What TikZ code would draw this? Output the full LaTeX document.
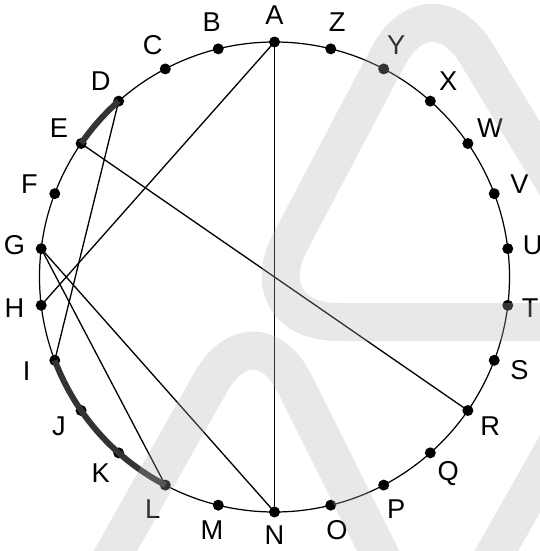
\documentclass[tikz,border=0pt]{standalone}
\usepackage{fontspec}
\setmainfont{Liberation Sans}
\usepackage{tikz}
\tikzset{
  letter dot/.style={
    circle, fill=black, draw=none, inner sep=0pt, minimum size=2.2mm
  },
  letter label/.style={
    inner sep=0pt, font=\fontsize{15.5}{18}\selectfont
  },
  chord/.style={
    draw=black, line width=0.75pt
  },
  marked arc/.style={
    draw=black!80, line width=3.4pt
  },
  watermark/.style={
    draw=black!31, draw opacity=0.29, line width=0.76cm, rounded corners=1.8cm
  }
}

\begin{document}
\begin{tikzpicture}[line width=0.7pt]

\useasboundingbox (-5.49,-5.48) rectangle (5.31,5.54);

% ---------------------------
% circle and its 26 points
% ---------------------------
\draw (0,0) circle (4.7);

\node[letter dot] (A) at (90:4.7) {};
\node[letter dot] (B) at (103.85:4.7) {};
\node[letter dot] (C) at (117.69:4.7) {};
\node[letter dot] (D) at (131.54:4.7) {};
\node[letter dot] (E) at (145.38:4.7) {};
\node[letter dot] (F) at (159.23:4.7) {};
\node[letter dot] (G) at (173.08:4.7) {};
\node[letter dot] (H) at (186.92:4.7) {};
\node[letter dot] (I) at (200.77:4.7) {};
\node[letter dot] (J) at (214.62:4.7) {};
\node[letter dot] (K) at (228.46:4.7) {};
\node[letter dot] (L) at (242.31:4.7) {};
\node[letter dot] (M) at (256.15:4.7) {};
\node[letter dot] (N) at (270:4.7) {};
\node[letter dot] (O) at (283.85:4.7) {};
\node[letter dot] (P) at (297.69:4.7) {};
\node[letter dot] (Q) at (311.54:4.7) {};
\node[letter dot] (R) at (325.38:4.7) {};
\node[letter dot] (S) at (339.23:4.7) {};
\node[letter dot] (T) at (353.08:4.7) {};
\node[letter dot] (U) at (6.92:4.7) {};
\node[letter dot] (V) at (20.77:4.7) {};
\node[letter dot] (W) at (34.62:4.7) {};
\node[letter dot] (X) at (48.46:4.7) {};
\node[letter dot] (Y) at (62.31:4.7) {};
\node[letter dot] (Z) at (76.15:4.7) {};

\node[letter label] (A text) at (90:5.24) {A};
\node[letter label] (B text) at (103.85:5.24) {B};
\node[letter label] (C text) at (117.69:5.24) {C};
\node[letter label] (D text) at (131.54:5.24) {D};
\node[letter label] (E text) at (145.38:5.24) {E};
\node[letter label] (F text) at (159.23:5.24) {F};
\node[letter label] (G text) at (173.08:5.24) {G};
\node[letter label] (H text) at (186.92:5.24) {H};
\node[letter label] (I text) at (200.77:5.3) {I};
\node[letter label] (J text) at (214.62:5.24) {J};
\node[letter label] (K text) at (228.46:5.24) {K};
\node[letter label] (L text) at (242.31:5.24) {L};
\node[letter label] (M text) at (256.15:5.22) {M};
\node[letter label] (N text) at (270:5.16) {N};
\node[letter label] (O text) at (283.85:5.22) {O};
\node[letter label] (P text) at (297.69:5.24) {P};
\node[letter label] (Q text) at (311.54:5.24) {Q};
\node[letter label] (R text) at (325.38:5.24) {R};
\node[letter label] (S text) at (339.23:5.24) {S};
\node[letter label] (T text) at (353.08:5.15) {T};
\node[letter label] (U text) at (6.92:5.2) {U};
\node[letter label] (V text) at (20.77:5.24) {V};
\node[letter label] (W text) at (34.62:5.24) {W};
\node[letter label] (X text) at (48.46:5.24) {X};
\node[letter label] (Y text) at (62.31:5.24) {Y};
\node[letter label] (Z text) at (76.15:5.24) {Z};

% ---------------------------
% chords
% ---------------------------
\draw[chord] (A.center) -- (N.center);
\draw[chord] (A.center) -- (H.center);
\draw[chord] (D.center) -- (I.center);
\draw[chord] (E.center) -- (R.center);
\draw[chord] (G.center) -- (L.center);
\draw[chord] (G.center) -- (N.center);

% ---------------------------
% marked arcs
% ---------------------------
\draw[marked arc] (D.center) arc[start angle=131.54, end angle=145.38, radius=4.7];
\draw[marked arc] (I.center) arc[start angle=200.77, end angle=242.31, radius=4.7];

% ---------------------------
% watermark
% ---------------------------
\draw[watermark] (3.2,-0.9) -- (7.29,-0.9) -- (3.11,6.0) -- (-0.53,-0.9) -- cycle;
\draw[watermark] (-0.4,-7.44) -- (3.05,-7.44) -- (-0.39,-0.54) -- (-4.29,-7.44) -- cycle;
\draw[watermark] (7.2,-7.44) -- (11.13,-7.44) -- (7.23,-0.54) -- (3.33,-7.44) -- cycle;

\end{tikzpicture}
\end{document}
